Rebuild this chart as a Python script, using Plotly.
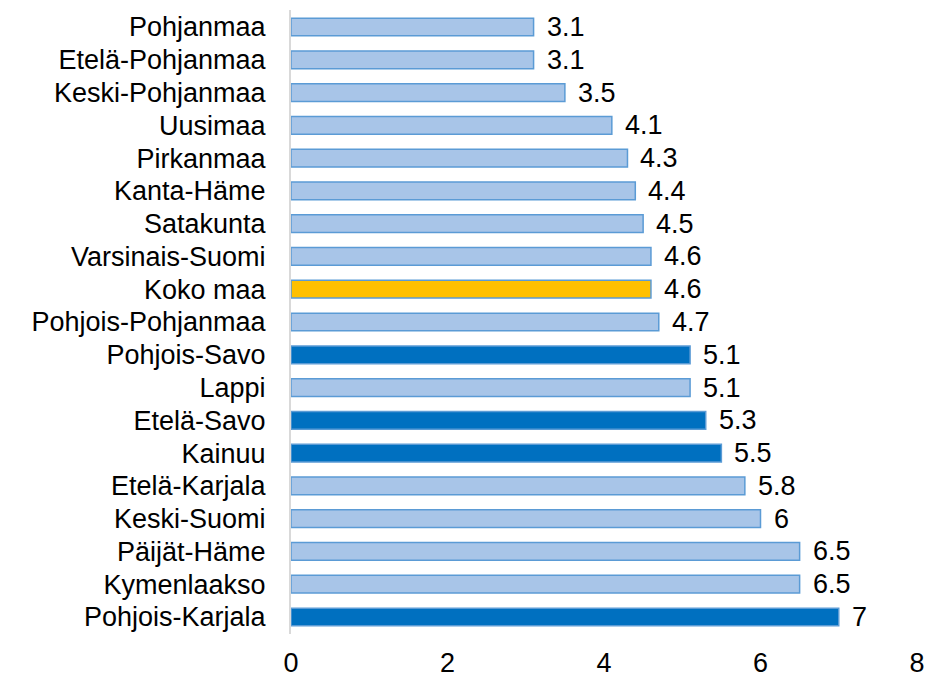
import plotly.graph_objects as go

regions = ["Pohjanmaa", "Etelä-Pohjanmaa", "Keski-Pohjanmaa", "Uusimaa", "Pirkanmaa",
           "Kanta-Häme", "Satakunta", "Varsinais-Suomi", "Koko maa", "Pohjois-Pohjanmaa",
           "Pohjois-Savo", "Lappi", "Etelä-Savo", "Kainuu", "Etelä-Karjala", "Keski-Suomi",
           "Päijät-Häme", "Kymenlaakso", "Pohjois-Karjala"]
values = [3.1, 3.1, 3.5, 4.1, 4.3, 4.4, 4.5, 4.6, 4.6, 4.7, 5.1, 5.1, 5.3, 5.5, 5.8, 6, 6.5, 6.5, 7]
highlight_dark = ["Pohjois-Savo", "Etelä-Savo", "Kainuu", "Pohjois-Karjala"]
highlight_total = ["Koko maa"]
x_ticks = [0, 2, 4, 6, 8]

LIGHT = "#a8c5e8"
LIGHT_LINE = "#5b9bd5"
DARK = "#0070c0"
DARK_LINE = "#5b9bd5"
GOLD = "#ffc000"

fills, lines = [], []
for r in regions:
    if r in highlight_dark:
        fills.append(DARK); lines.append(DARK_LINE)
    elif r in highlight_total:
        fills.append(GOLD); lines.append(LIGHT_LINE)
    else:
        fills.append(LIGHT); lines.append(LIGHT_LINE)

FONT = "Liberation Sans, Arial, sans-serif"
FS = 27

fig = go.Figure(go.Bar(
    x=values, y=regions, orientation="h",
    marker=dict(color=fills, line=dict(color=lines, width=1.5)),
    hoverinfo="x+y",
))

for r, v in zip(regions, values):
    fig.add_annotation(x=v, y=r, text=f"{v:g}", showarrow=False, xanchor="left",
                       xshift=11, font=dict(family=FONT, size=FS, color="#000000"))

fig.update_layout(
    width=928, height=680,
    margin=dict(l=291, r=11, t=10, b=46),
    paper_bgcolor="white", plot_bgcolor="white",
    bargap=0.46,
    showlegend=False,
    font=dict(family=FONT, size=FS, color="#000000"),
)
fig.update_xaxes(range=[0, 8], tickvals=x_ticks, showgrid=False, zeroline=False,
                 showline=False, ticks="", ticklabelstandoff=10, automargin=False,
                 tickfont=dict(family=FONT, size=FS, color="#000000"))
fig.update_yaxes(autorange="reversed", showgrid=False, zeroline=False,
                 tickmode="array", tickvals=regions, ticktext=regions,
                 showline=True, linecolor="#d9d9d9", linewidth=2, ticks="",
                 ticklabelstandoff=18, automargin=False,
                 tickfont=dict(family=FONT, size=FS, color="#000000"))

fig.write_html("out.html", config={"displayModeBar": False},
               post_script="document.body.style.margin='0';document.body.style.overflow='hidden';")
